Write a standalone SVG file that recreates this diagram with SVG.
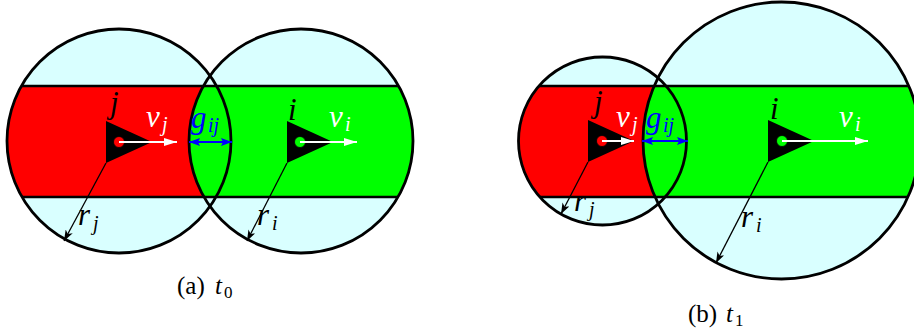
<svg xmlns="http://www.w3.org/2000/svg" width="914" height="336" viewBox="0 0 914 336">
<defs>
<style>
.disk{fill:#d9ffff}
.ring{fill:none;stroke:#000;stroke-width:2.8}
.edge{stroke:#000;stroke-width:2.5}
.tri{fill:#000}
.lbl{font-family:"Liberation Serif","Times New Roman","DejaVu Serif",serif;font-style:italic;font-size:31px}
.sub{font-size:20px}
.cap{font-family:"Liberation Serif","Times New Roman","DejaVu Serif",serif;font-size:25px;fill:#000}
.capsub{font-size:17px;font-style:normal}
.w{fill:#fff}
.b{fill:#0000ff}
.k{fill:#000}
.vel{stroke:#fff;stroke-width:2;marker-end:url(#wh)}
.gap{stroke:#0000ff;stroke-width:2;marker-start:url(#bh);marker-end:url(#bh)}
.rad{stroke:#000;stroke-width:1.3;marker-end:url(#kh)}
</style>
<marker id="wh" markerUnits="userSpaceOnUse" markerWidth="13" markerHeight="8" refX="13" refY="4" orient="auto"><path d="M0,0 L13,4 L0,8 z" fill="#fff"/></marker>
<marker id="bh" markerUnits="userSpaceOnUse" markerWidth="11" markerHeight="8" refX="11" refY="4" orient="auto-start-reverse"><path d="M0,0 L11,4 L0,8 L2,4 z" fill="#0000ff"/></marker>
<marker id="kh" markerUnits="userSpaceOnUse" markerWidth="11" markerHeight="8" refX="11" refY="4" orient="auto"><path d="M0,0 L11,4 L0,8 L3,4 z" fill="#000"/></marker>
<clipPath id="cjA"><circle cx="119" cy="141" r="112"/></clipPath>
<clipPath id="ciA"><circle cx="301" cy="141" r="112"/></clipPath>
<clipPath id="cjB"><circle cx="602.5" cy="141" r="84"/></clipPath>
<clipPath id="ciB"><circle cx="781.5" cy="140.5" r="138.5"/></clipPath>
</defs>

<g id="panel-a">
<g id="a-fill">
<circle class="disk" cx="119" cy="141" r="112"/>
<circle class="disk" cx="301" cy="141" r="112"/>
<rect x="0" y="86" width="420" height="111" fill="#ff0000" clip-path="url(#cjA)"/>
<rect x="0" y="86" width="420" height="111" fill="#00ff00" clip-path="url(#ciA)"/>
<line class="edge" x1="21.4" y1="86" x2="398.6" y2="86"/>
<line class="edge" x1="22" y1="197" x2="398" y2="197"/>
</g>
<g id="a-node-j">
<circle class="ring" cx="119" cy="141" r="112"/>
<polygon class="tri" points="106,121 106,163 152,142"/>
<circle cx="119" cy="142" r="5.5" fill="#ff0000" stroke="#000" stroke-width="0.8"/>
<text class="lbl k" x="110" y="113">j</text>
</g>
<g id="a-node-i">
<circle class="ring" cx="301" cy="141" r="112"/>
<polygon class="tri" points="287,121 287,163 333,142"/>
<circle cx="300" cy="142" r="5.5" fill="#00ff00" stroke="#000" stroke-width="0.8"/>
<text class="lbl k" x="288" y="120">i</text>
</g>
<g id="a-connectors">
<line class="vel" x1="119" y1="142" x2="177" y2="142"/>
<line class="vel" x1="300" y1="142" x2="357" y2="142"/>
<line class="gap" x1="189" y1="142" x2="232" y2="142"/>
<line class="rad" x1="106" y1="163" x2="64" y2="241"/>
<line class="rad" x1="287" y1="163" x2="247" y2="241"/>
</g>
<g id="a-labels">
<text class="lbl w" x="146" y="127">v<tspan class="sub" x="162" y="131">j</tspan></text>
<text class="lbl w" x="329" y="127">v<tspan class="sub" x="345" y="131">i</tspan></text>
<text class="lbl b" x="191" y="128">g<tspan class="sub" x="208" y="132">ij</tspan></text>
<text class="lbl k" x="78" y="225">r<tspan class="sub" x="93" y="230">j</tspan></text>
<text class="lbl k" x="257" y="225">r<tspan class="sub" x="272" y="230">i</tspan></text>
<text class="cap" x="177" y="294">(a)<tspan font-style="italic" x="215">t</tspan><tspan class="capsub" x="224" y="298">0</tspan></text>
</g>
</g>

<g id="panel-b">
<g id="b-fill">
<circle class="disk" cx="602.5" cy="141" r="84"/>
<circle class="disk" cx="781.5" cy="140.5" r="138.5"/>
<rect x="500" y="86" width="414" height="111" fill="#ff0000" clip-path="url(#cjB)"/>
<rect x="500" y="86" width="414" height="111" fill="#00ff00" clip-path="url(#ciB)"/>
<line class="edge" x1="539" y1="86" x2="909" y2="86"/>
<line class="edge" x1="540" y1="197" x2="908" y2="197"/>
</g>
<g id="b-node-j">
<circle class="ring" cx="602.5" cy="141" r="84"/>
<polygon class="tri" points="588,120 588,162 634,141"/>
<circle cx="602" cy="141" r="5.5" fill="#ff0000" stroke="#000" stroke-width="0.8"/>
<text class="lbl k" x="594" y="112">j</text>
</g>
<g id="b-node-i">
<circle class="ring" cx="781.5" cy="140.5" r="138.5"/>
<polygon class="tri" points="768,120 768,162 814,141"/>
<circle cx="782" cy="141" r="5.5" fill="#00ff00" stroke="#000" stroke-width="0.8"/>
<text class="lbl k" x="770" y="119">i</text>
</g>
<g id="b-connectors">
<line class="vel" x1="602" y1="141" x2="634" y2="141"/>
<line class="vel" x1="782" y1="141" x2="868" y2="141"/>
<line class="gap" x1="642" y1="141" x2="688" y2="141"/>
<line class="rad" x1="588" y1="162" x2="561" y2="214"/>
<line class="rad" x1="768" y1="162" x2="716" y2="263"/>
</g>
<g id="b-labels">
<text class="lbl w" x="616" y="127">v<tspan class="sub" x="632" y="131">j</tspan></text>
<text class="lbl w" x="839" y="127">v<tspan class="sub" x="855" y="131">i</tspan></text>
<text class="lbl b" x="646" y="128">g<tspan class="sub" x="663" y="132">ij</tspan></text>
<text class="lbl k" x="574" y="211">r<tspan class="sub" x="589" y="216">j</tspan></text>
<text class="lbl k" x="741" y="227">r<tspan class="sub" x="756" y="232">i</tspan></text>
<text class="cap" x="688" y="322">(b)<tspan font-style="italic" x="726">t</tspan><tspan class="capsub" x="735" y="326">1</tspan></text>
</g>
</g>
</svg>
